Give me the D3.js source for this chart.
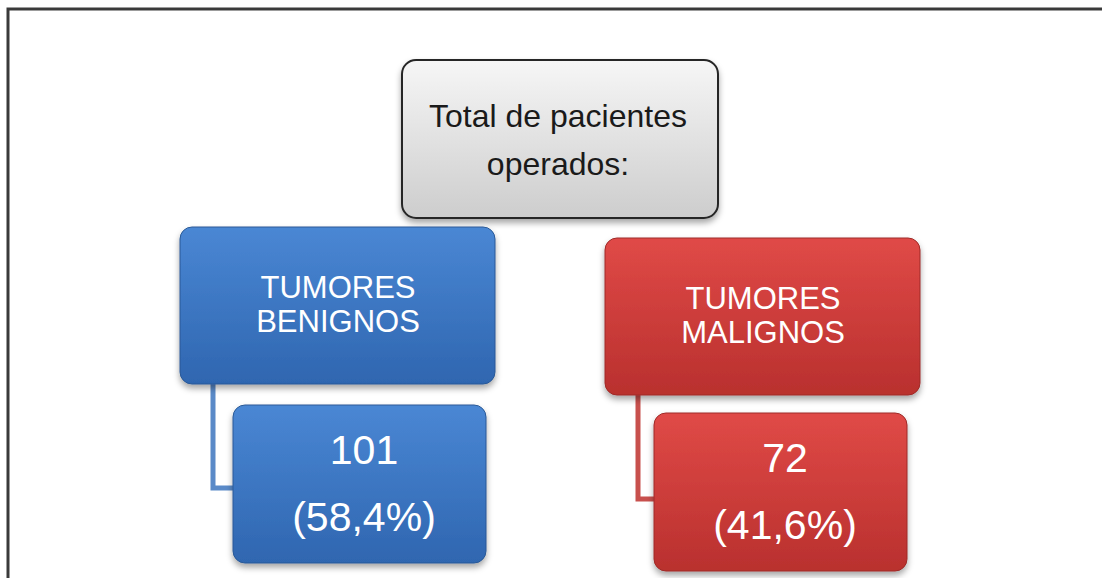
<!DOCTYPE html>
<html>
<head>
<meta charset="utf-8">
<script src="https://cdn.jsdelivr.net/npm/d3@7"></script>
<style>
  body { margin: 0; background: #fff; }
  svg { display: block; font-family: "Liberation Sans", Arial, sans-serif; }
</style>
</head>
<body>
<svg id="chart" width="1102" height="578"></svg>
<script>
const rootLines = ["Total de pacientes", "operados:"];
const groups = ["TUMORES BENIGNOS", "TUMORES MALIGNOS"];
const groupLines = [["TUMORES", "BENIGNOS"], ["TUMORES", "MALIGNOS"]];
const counts = [101, 72];
const percents = ["58,4%", "41,6%"];

var svg = d3.select("#chart");
var defs = svg.append("defs");

function gradient(id, top, bottom) {
  var lg = defs.append("linearGradient").attr("id", id)
    .attr("x1", 0).attr("y1", 0).attr("x2", 0).attr("y2", 1);
  lg.append("stop").attr("offset", "0%").attr("stop-color", top);
  lg.append("stop").attr("offset", "100%").attr("stop-color", bottom);
}
gradient("g-grey", "#f6f6f6", "#cdcdcd");
gradient("g-blue", "#4a87d4", "#2f66b0");
gradient("g-red", "#e04a47", "#b9302e");

var shadow = defs.append("filter").attr("id", "shadow")
  .attr("x", "-10%").attr("y", "-10%").attr("width", "130%").attr("height", "140%");
shadow.append("feDropShadow").attr("dx", 0).attr("dy", 4).attr("stdDeviation", 3)
  .attr("flood-color", "#000").attr("flood-opacity", 0.35);

// frame
svg.append("rect")
  .attr("x", 8).attr("y", 9).attr("width", 1110).attr("height", 590)
  .attr("fill", "none").attr("stroke", "#3a3a3a").attr("stroke-width", 3);

// group colours and layout
const color = d3.scaleOrdinal().domain(groups).range(["blue", "red"]);
const lineColor = d3.scaleOrdinal().domain(groups).range(["#5a8ac8", "#c8504d"]);
const edge = d3.scaleOrdinal().domain(groups).range(["#2a5996", "#9e2a28"]);
const gx = d3.scaleOrdinal().domain(groups).range([180, 605]);
const gy = d3.scaleOrdinal().domain(groups).range([227, 238]);
const vxOff = d3.scaleOrdinal().domain(groups).range([53, 49]);
const vyOff = d3.scaleOrdinal().domain(groups).range([178, 175]);

// root box
var root = svg.append("g");
root.append("rect")
  .attr("x", 402).attr("y", 60).attr("width", 316).attr("height", 158)
  .attr("rx", 14).attr("fill", "url(#g-grey)")
  .attr("stroke", "#262626").attr("stroke-width", 2)
  .attr("filter", "url(#shadow)");
root.selectAll("text").data(rootLines).join("text")
  .attr("x", 558).attr("y", (d, i) => 127 + i * 48)
  .attr("text-anchor", "middle")
  .attr("fill", "#1a1a1a")
  .style("font-size", "32px")
  .text(d => d);

groups.forEach((grp, j) => {
  var x0 = gx(grp), y0 = gy(grp);
  var g = svg.append("g");

  // connector
  g.append("path")
    .attr("d", `M${x0 + 33},${y0 + 150} V${y0 + 261} H${x0 + 58}`)
    .attr("fill", "none").attr("stroke", lineColor(grp)).attr("stroke-width", 5);

  // category box
  g.append("rect")
    .attr("x", x0).attr("y", y0).attr("width", 315).attr("height", 157)
    .attr("rx", 12).attr("fill", `url(#g-${color(grp)})`)
    .attr("stroke", edge(grp)).attr("stroke-width", 1)
    .attr("filter", "url(#shadow)");
  g.selectAll(".cat").data(groupLines[j]).join("text")
    .attr("class", "cat")
    .attr("x", x0 + 158).attr("y", (d, i) => y0 + 71 + i * 34)
    .attr("text-anchor", "middle")
    .attr("fill", "#fff")
    .style("font-size", "31px")
    .text(d => d);

  // value box
  var vx = x0 + vxOff(grp), vy = y0 + vyOff(grp);
  g.append("rect")
    .attr("x", vx).attr("y", vy).attr("width", 253).attr("height", 158)
    .attr("rx", 12).attr("fill", `url(#g-${color(grp)})`)
    .attr("stroke", edge(grp)).attr("stroke-width", 1)
    .attr("filter", "url(#shadow)");
  g.selectAll(".val").data([String(counts[j]), `(${percents[j]})`]).join("text")
    .attr("class", "val")
    .attr("x", vx + 131).attr("y", (d, i) => vy + 59 + i * 67)
    .attr("text-anchor", "middle")
    .attr("fill", "#fff")
    .style("font-size", "41px")
    .text(d => d);
});
</script>
</body>
</html>
